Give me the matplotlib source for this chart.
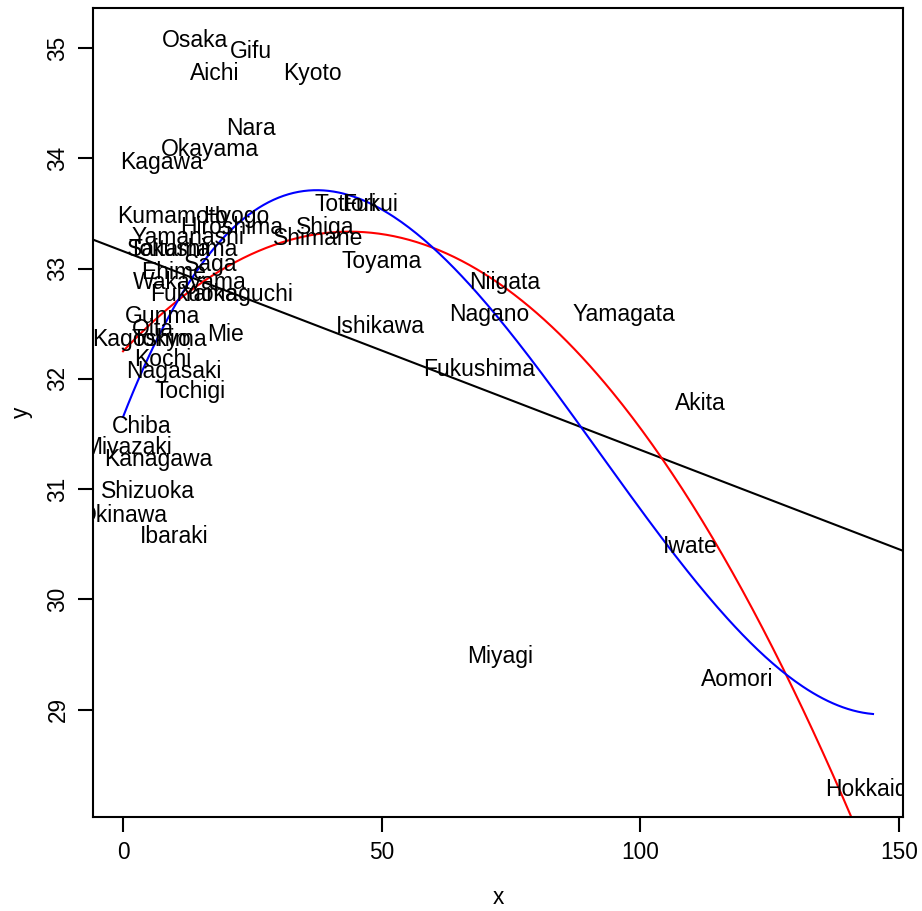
import numpy as np
import matplotlib
matplotlib.use("Agg")
import matplotlib.pyplot as plt
import matplotlib.transforms as mtransforms

plt.rcParams['font.family'] = ['Liberation Sans', 'DejaVu Sans']

# prefecture names and their (x, y) coordinates
names = ['Hokkaido', 'Aomori', 'Iwate', 'Miyagi', 'Akita', 'Yamagata', 'Fukushima',
         'Ibaraki', 'Tochigi', 'Gunma', 'Saitama', 'Chiba', 'Tokyo', 'Kanagawa',
         'Niigata', 'Toyama', 'Ishikawa', 'Fukui', 'Yamanashi', 'Nagano', 'Gifu',
         'Shizuoka', 'Aichi', 'Mie', 'Shiga', 'Kyoto', 'Osaka', 'Hyogo', 'Nara',
         'Wakayama', 'Tottori', 'Shimane', 'Okayama', 'Hiroshima', 'Yamaguchi',
         'Tokushima', 'Kagawa', 'Ehime', 'Kochi', 'Fukuoka', 'Saga', 'Nagasaki',
         'Kumamoto', 'Oita', 'Miyazaki', 'Kagoshima', 'Okinawa']
x = [145.0, 118.7, 109.7, 73.0, 111.7, 96.8, 68.8,
     9.9, 12.9, 7.7, 8.9, 3.7, 7.5, 6.8,
     73.7, 49.9, 49.8, 47.7, 12.5, 70.8, 24.7,
     4.9, 17.8, 19.8, 39.0, 36.7, 13.9, 21.8, 24.8,
     12.9, 43.1, 37.8, 16.8, 21.0, 22.0,
     11.6, 7.4, 9.7, 7.6, 13.8, 16.9, 9.8,
     9.5, 5.7, 0.9, 5.1, 0.0]
y = [28.30, 29.29, 30.50, 29.50, 31.80, 32.60, 32.10,
     30.59, 31.90, 32.58, 33.19, 31.59, 32.38, 31.29,
     32.89, 33.08, 32.49, 33.60, 33.30, 32.60, 34.99,
     31.00, 34.79, 32.42, 33.39, 34.79, 35.09, 33.49, 34.29,
     32.89, 33.60, 33.29, 34.10, 33.39, 32.78,
     33.19, 33.98, 32.98, 32.19, 32.78, 33.06, 32.09,
     33.49, 32.47, 31.40, 32.38, 30.78]

x = np.array(x)
y = np.array(y)

fig = plt.figure(figsize=(9.22, 9.11), dpi=100)
ax = fig.add_axes([0.1009, 0.1032, 0.8785, 0.888])

# nudge labels down a touch so the cap height is centred on the point
shift = ax.transData + mtransforms.ScaledTranslation(0, -1.5 / 72, fig.dpi_scale_trans)
for name, xi, yi in zip(names, x, y):
    ax.text(xi, yi, name, ha='center', va='center', fontsize=16.5,
            transform=shift, clip_on=True)

# linear, quadratic and cubic fits over the data range
xs = np.linspace(x.min(), x.max(), 300)
for deg, col in [(1, 'black'), (2, 'red'), (3, 'blue')]:
    coef = np.polyfit(x, y, deg)
    if deg == 1:
        xx = np.array([-20, 200])
    else:
        xx = xs
    ax.plot(xx, np.polyval(coef, xx), color=col, lw=1.5)

# R-style 4% padding
dx = (x.max() - x.min()) * 0.04
dy = (y.max() - y.min()) * 0.04
ax.set_xlim(x.min() - dx, x.max() + dx)
ax.set_ylim(y.min() - dy, y.max() + dy)

ax.set_xticks([0, 50, 100, 150])
ax.set_yticks([29, 30, 31, 32, 33, 34, 35])
for s in ax.spines.values():
    s.set_linewidth(1.5)
ax.tick_params(length=11, width=1.5, labelsize=16.3, pad=6)
plt.setp(ax.get_yticklabels(), rotation=90, va='center')
ax.set_xlabel('x', fontsize=16.3, labelpad=16)
ax.set_ylabel('y', fontsize=16.3, labelpad=10)

fig.savefig('out.png', dpi=100)
